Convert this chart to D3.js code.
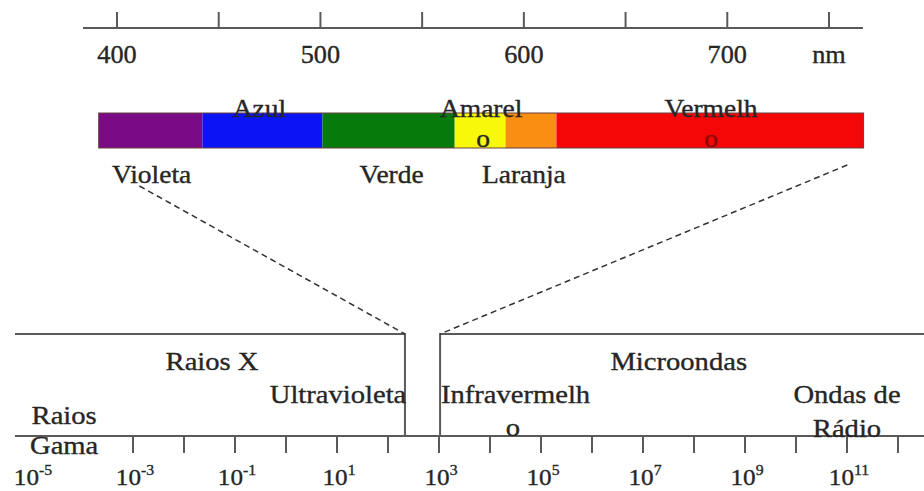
<!DOCTYPE html>
<html>
<head>
<meta charset="utf-8">
<script src="https://cdn.jsdelivr.net/npm/d3@7"></script>
<style>
  body { margin: 0; background: #fff; }
  text { font-family: "Liberation Serif", "Times New Roman", serif; fill: #262626; stroke: #262626; stroke-width: 0.35px; }
</style>
</head>
<body>
<div id="chart"></div>
<script>
// wavelength ticks (nm)
const nmTicks = [400, 450, 500, 550, 600, 650, 700, 750];
const nmLabels = ["400", "", "500", "", "600", "", "700", "nm"];

// visible bands, edges in nm
const bandNames = ["Violeta", "Azul", "Verde", "Amarelo", "Laranja", "Vermelho"];
const bandStart = [391, 442, 501, 566, 591, 616];
const bandEnd = [442, 501, 566, 591, 616, 767];
const bandColors = ["#7a0a86", "#0a14f5", "#077a0c", "#f8f80a", "#f98e12", "#f50707"];

// log axis (powers of ten)
const expTicks = [-3, -2, -1, 0, 1, 2, 3, 4, 5, 6, 7, 8, 9, 10, 11, 12];
const expLabels = [-5, -3, -1, 1, 3, 5, 7, 9, 11];

// gap of visible light on the log axis
const gapLeft = 215, gapRight = 1050;

const width = 924, height = 491;
const svg = d3.select("#chart").append("svg")
  .attr("width", width)
  .attr("height", height);

const ink = "#5a5a5a";
const sx = 1.1; // source picture is a bit wider than tall

// ---- top wavelength axis
const xNm = d3.scaleLinear().domain([400, 750]).range([117, 829]);
const topY = 28;

svg.append("line")
  .attr("x1", 83).attr("x2", 863)
  .attr("y1", topY).attr("y2", topY)
  .attr("stroke", ink).attr("stroke-width", 2);

svg.selectAll(".nmtick")
  .data(nmTicks)
  .enter().append("line")
  .attr("x1", d => xNm(d)).attr("x2", d => xNm(d))
  .attr("y1", 12).attr("y2", topY)
  .attr("stroke", ink).attr("stroke-width", 2);

svg.selectAll(".nmlabel")
  .data(nmTicks)
  .enter().append("text")
  .attr("transform", d => "translate(" + xNm(d) + ",63) scale(1.05,1)")
  .attr("text-anchor", "middle")
  .style("font-size", "25px")
  .text((d, i) => nmLabels[i]);

// ---- colour bar
const barTop = 113, barH = 35;
svg.selectAll(".band")
  .data(bandNames)
  .enter().append("rect")
  .attr("x", (d, i) => xNm(bandStart[i]))
  .attr("y", barTop)
  .attr("width", (d, i) => xNm(bandEnd[i]) - xNm(bandStart[i]))
  .attr("height", barH)
  .attr("fill", (d, i) => bandColors[i]);

svg.append("rect")
  .attr("x", xNm(bandStart[0])).attr("y", barTop)
  .attr("width", xNm(bandEnd[5]) - xNm(bandStart[0]))
  .attr("height", barH)
  .attr("fill", "none")
  .attr("stroke", "#6a4040").attr("stroke-width", 1);

// band labels (some split in two lines as in the original)
const bandText = [
  { t: "Violeta", nm: 417, y: 183 },
  { t: "Azul", nm: 470, y: 117 },
  { t: "Verde", nm: 535, y: 183 },
  { t: "Amarel", nm: 579, y: 117 },
  { t: "o", nm: 580, y: 147 },
  { t: "Laranja", nm: 600, y: 183 },
  { t: "Vermelh", nm: 692, y: 117 },
  { t: "o", nm: 692, y: 147, fill: "#8a0a0a" }
];
svg.selectAll(".bandtext")
  .data(bandText)
  .enter().append("text")
  .attr("transform", d => "translate(" + xNm(d.nm) + "," + d.y + ") scale(" + sx + ",1)")
  .attr("text-anchor", "middle")
  .style("font-size", "25px")
  .style("fill", d => d.fill || "#262626")
  .style("stroke", d => d.fill || "#262626")
  .text(d => d.t);

// ---- bottom log axis
const xLog = d3.scaleLog().domain([1e-5, 1e12]).range([31, 898]);
const axisY = 436, boxTop = 334;

svg.append("line")
  .attr("x1", 15).attr("x2", width)
  .attr("y1", axisY).attr("y2", axisY)
  .attr("stroke", ink).attr("stroke-width", 2);

svg.selectAll(".logtick")
  .data(expTicks)
  .enter().append("line")
  .attr("x1", d => xLog(Math.pow(10, d))).attr("x2", d => xLog(Math.pow(10, d)))
  .attr("y1", axisY).attr("y2", axisY + 17)
  .attr("stroke", ink).attr("stroke-width", 2);

const lbl = svg.selectAll(".loglabel")
  .data(expLabels)
  .enter().append("text")
  .attr("transform", d => "translate(" + (xLog(Math.pow(10, d)) + 2) + ",485) scale(1.05,1)")
  .attr("text-anchor", "middle")
  .style("font-size", "24px");
lbl.append("tspan").text("10");
lbl.append("tspan")
  .attr("dy", -10)
  .style("font-size", "15px")
  .text(d => d);

// left and right outline boxes around the visible gap
const gl = xLog(gapLeft), gr = xLog(gapRight);
svg.append("path")
  .attr("d", d3.line()([[15, boxTop], [gl, boxTop], [gl, axisY]]))
  .attr("fill", "none").attr("stroke", ink).attr("stroke-width", 2);
svg.append("path")
  .attr("d", d3.line()([[width, boxTop], [gr, boxTop], [gr, axisY]]))
  .attr("fill", "none").attr("stroke", ink).attr("stroke-width", 2);

// dashed zoom lines
svg.append("line")
  .attr("x1", xNm(411)).attr("y1", 186)
  .attr("x2", gl).attr("y2", boxTop)
  .attr("stroke", "#333").attr("stroke-width", 1.5)
  .attr("stroke-dasharray", "6,4");
svg.append("line")
  .attr("x1", xNm(759)).attr("y1", 165)
  .attr("x2", gr).attr("y2", boxTop)
  .attr("stroke", "#333").attr("stroke-width", 1.5)
  .attr("stroke-dasharray", "6,4");

// region names
const regionText = [
  { t: "Raios X", e: -1.45, y: 370 },
  { t: "Ultravioleta", e: 1.02, y: 403 },
  { t: "Raios", e: -4.35, y: 424 },
  { t: "Gama", e: -4.35, y: 454 },
  { t: "Infravermelh", e: 4.5, y: 403 },
  { t: "o", e: 4.45, y: 436 },
  { t: "Microondas", e: 7.7, y: 370 },
  { t: "Ondas de", e: 11, y: 403 },
  { t: "Rádio", e: 11, y: 437 }
];
svg.selectAll(".regiontext")
  .data(regionText)
  .enter().append("text")
  .attr("transform", d => "translate(" + xLog(Math.pow(10, d.e)) + "," + d.y + ") scale(" + sx + ",1)")
  .attr("text-anchor", "middle")
  .style("font-size", "26px")
  .text(d => d.t);
</script>
</body>
</html>
